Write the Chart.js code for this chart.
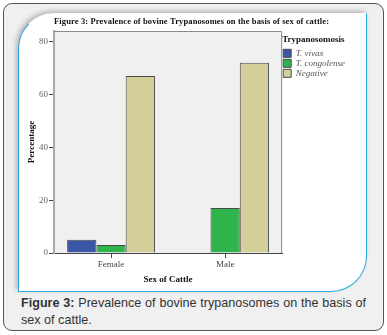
<!DOCTYPE html>
<html>
<head>
<meta charset="utf-8">
<script src="https://cdn.jsdelivr.net/npm/chart.js@4.4.0/dist/chart.umd.min.js"></script>
<style>
  body { margin: 0; background: #fff; width: 387px; height: 335px; overflow: hidden; position: relative; }
  .frame { position: absolute; left: 3px; top: 3px; width: 379px; height: 326px; border: 1px solid #555; border-radius: 9px; background: #f0f0f0; }
  .box { position: absolute; left: 18px; top: 13px; width: 347px; height: 277px; background: #fff;
         border: 1px solid #29abe2; border-top-color: transparent; border-radius: 36px 0 36px 0;
         box-shadow: -2px -2px 5px rgba(0,0,0,0.25); }
  #wrap { position: absolute; left: 19px; top: 13px; }
  .caption { position: absolute; left: 21px; top: 295px; width: 345px; font: 12.6px "Liberation Sans", Arial, sans-serif;
             color: #333; line-height: 17px; text-align: justify; }
</style>
</head>
<body>
<div class="frame"></div>
<div class="box"></div>
<div id="wrap"><canvas id="chart" width="336" height="278"></canvas></div>
<div class="caption"><b>Figure 3:</b> Prevalence of bovine trypanosomes on the basis of sex of cattle.</div>
<script>
const categories = ['Female', 'Male'];
const seriesNames = ['T. vivax', 'T. congolense', 'Negative'];
const vivax = [5, 0];
const congolense = [3, 17];
const negative = [67, 72];
const yTicks = [0, 20, 40, 60, 80];
const colors = ['#3b56a6', '#2fb44b', '#d4cf9b'];
const chartTitle = 'Figure 3: Prevalence of bovine Trypanosomes on the basis of sex of cattle:';

const serif = '"Liberation Serif", "Times New Roman", serif';

// plot area background + frame, and the wide-spaced figure title
const plotFrame = {
  id: 'plotFrame',
  beforeDraw(chart) {
    const a = chart.chartArea, ctx = chart.ctx;
    ctx.save();
    ctx.fillStyle = '#f0f0f0';
    ctx.fillRect(a.left, a.top, a.right - a.left, a.bottom - a.top);
    ctx.restore();
  },
  afterDatasetsDraw(chart) {
    const a = chart.chartArea, ctx = chart.ctx;
    ctx.save();
    ctx.strokeStyle = '#8a8a8a';
    ctx.lineWidth = 1;
    ctx.beginPath();
    ctx.moveTo(a.left, a.top + 0.5);
    ctx.lineTo(a.right - 0.5, a.top + 0.5);
    ctx.lineTo(a.right - 0.5, a.bottom);
    ctx.stroke();
    ctx.restore();
  },
  afterDraw(chart) {
    const ctx = chart.ctx;
    ctx.save();
    ctx.font = 'bold 8.5px ' + serif;
    ctx.letterSpacing = '0px';
    // stretch the title so it spans like the original bitmap (~275px)
    const w = ctx.measureText(chartTitle).width;
    const sp = Math.max(0, (275 - w) / chartTitle.length);
    ctx.letterSpacing = sp.toFixed(2) + 'px';
    ctx.fillStyle = '#111';
    ctx.textAlign = 'left';
    ctx.textBaseline = 'alphabetic';
    ctx.fillText(chartTitle, chart.chartArea.left, 11);
    ctx.letterSpacing = '0px';
    ctx.restore();
  }
};

new Chart(document.getElementById('chart'), {
  type: 'bar',
  data: {
    labels: categories,
    datasets: [vivax, congolense, negative].map((d, i) => ({
      label: seriesNames[i],
      data: d,
      backgroundColor: colors[i],
      borderColor: '#4a4a4a',
      borderWidth: 1,
      borderSkipped: 'bottom',
      categoryPercentage: 0.77,
      barPercentage: 1.0
    }))
  },
  options: {
    responsive: false,
    animation: false,
    devicePixelRatio: 1,
    layout: { padding: { top: 18 } },
    plugins: {
      title: { display: false },
      legend: {
        position: 'right',
        align: 'start',
        title: {
          display: true,
          text: 'Trypanosomosis',
          position: 'start',
          color: '#111',
          font: { family: serif, size: 9, weight: 'bold' },
          padding: { top: 4, bottom: 2 }
        },
        labels: {
          boxWidth: 8,
          boxHeight: 8,
          padding: 1,
          color: '#555',
          font: { family: serif, size: 9, style: 'italic' },
          generateLabels(chart) {
            return chart.data.datasets.map((ds, i) => ({
              text: ds.label,
              fillStyle: ds.backgroundColor,
              strokeStyle: '#4a4a4a',
              lineWidth: 1,
              fontColor: '#555',
              datasetIndex: i
            }));
          }
        }
      },
      tooltip: { enabled: false }
    },
    scales: {
      x: {
        offset: true,
        grid: { display: true, drawOnChartArea: false, offset: false, tickLength: 5, color: '#444' },
        border: { display: true, color: '#444' },
        ticks: { color: '#444', font: { family: serif, size: 9 }, padding: 1 },
        title: { display: true, text: 'Sex of Cattle', color: '#111', font: { family: serif, size: 9, weight: 'bold' }, padding: { top: 4, bottom: 6 } },
        afterFit(scale) { scale.height = 38; }
      },
      y: {
        min: 0,
        max: 84,
        afterBuildTicks(scale) { scale.ticks = yTicks.map(v => ({ value: v })); },
        grid: { display: true, drawOnChartArea: false, tickLength: 5, color: '#444' },
        border: { display: true, color: '#a8a8a8', width: 2 },
        ticks: { color: '#666', font: { family: serif, size: 9 }, padding: 1 },
        title: { display: true, text: 'Percentage', color: '#111', font: { family: serif, size: 9, weight: 'bold' }, padding: { top: 7, bottom: 0 } },
        afterFit(scale) { scale.width = 35; }
      }
    }
  },
  plugins: [plotFrame]
});
</script>
</body>
</html>
